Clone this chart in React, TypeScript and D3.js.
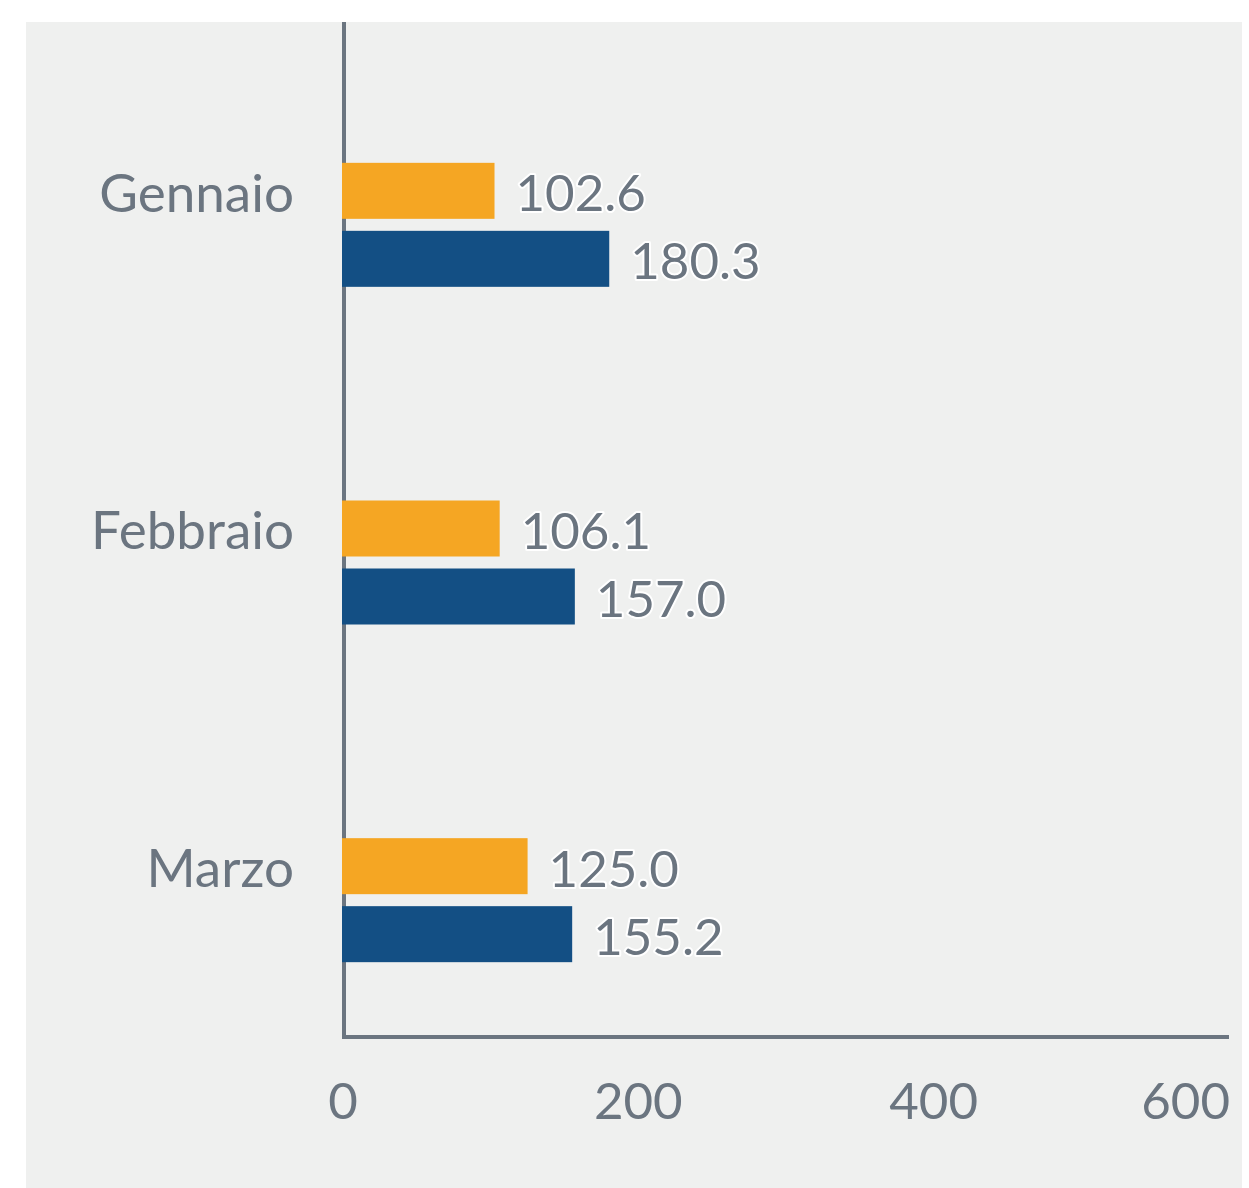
import { useEffect, useRef } from 'react';
import * as d3 from 'd3';

const months = ['Gennaio', 'Febbraio', 'Marzo'];
const series = ['primo', 'secondo'];
const primoValues = [102.6, 106.1, 125.0];
const secondoValues = [180.3, 157.0, 155.2];
const xTicks = [0, 200, 400, 600];
const colors = ['#F5A623', '#134F84'];

const App = () => {
  const svgRef = useRef<SVGSVGElement>(null);

  useEffect(() => {
    const width = 1249;
    const height = 1188;
    const textColor = '#6B7580';
    const font = 'Lato, "Open Sans", sans-serif';
    const fontSize = 51;

    if (!svgRef.current) return;
    const svg = d3.select(svgRef.current);
    svg.selectAll('*').remove();
    svg.attr('width', width).attr('height', height);

    svg.append('rect')
      .attr('x', 26).attr('y', 22)
      .attr('width', 1216).attr('height', height - 22)
      .attr('fill', '#EFF0EF');

    const xScale = d3.scaleLinear().domain([0, 600]).range([343, 1229]);
    const yScale = d3.scaleBand().domain(months).range([22, 1035]).padding(0);
    const inner = d3.scaleBand().domain(series).range([-28, 96]).paddingInner(12 / 68);

    // axes (under the bars)
    svg.append('line')
      .attr('x1', 344).attr('x2', 344)
      .attr('y1', 22).attr('y2', 1039)
      .attr('stroke', textColor).attr('stroke-width', 4);

    svg.append('line')
      .attr('x1', 342).attr('x2', 1229)
      .attr('y1', 1037).attr('y2', 1037)
      .attr('stroke', textColor).attr('stroke-width', 4);

    const rows = months.map((m, i) => ({ month: m, values: [primoValues[i], secondoValues[i]] }));

    const g = svg.selectAll('g.row')
      .data(rows)
      .enter()
      .append('g')
      .attr('class', 'row')
      .attr('transform', d => `translate(0,${(yScale(d.month) ?? 0) + yScale.bandwidth() / 2})`);

    g.selectAll('rect')
      .data(d => d.values.map((v, j) => ({ key: series[j], v, j })))
      .enter()
      .append('rect')
      .attr('x', xScale(0) - 1)
      .attr('y', d => inner(d.key) ?? 0)
      .attr('width', d => xScale(d.v) - xScale(0) + 1)
      .attr('height', inner.bandwidth())
      .attr('fill', d => colors[d.j]);

    g.selectAll('text.val')
      .data(d => d.values.map((v, j) => ({ key: series[j], v })))
      .enter()
      .append('text')
      .attr('class', 'val')
      .attr('x', d => xScale(d.v) + 21)
      .attr('y', d => (inner(d.key) ?? 0) + inner.bandwidth() / 2)
      .attr('dy', '0.4em')
      .attr('font-family', font)
      .attr('font-size', fontSize)
      .attr('fill', textColor)
      .attr('stroke', '#ffffff')
      .attr('stroke-width', 4)
      .attr('stroke-linejoin', 'round')
      .attr('paint-order', 'stroke')
      .text(d => d.v.toFixed(1));

    g.append('text')
      .attr('x', 294)
      .attr('y', 0)
      .attr('dy', '0.39em')
      .attr('text-anchor', 'end')
      .attr('font-family', font)
      .attr('font-size', 53)
      .attr('fill', textColor)
      .text(d => d.month);

    svg.selectAll('text.tick')
      .data(xTicks)
      .enter()
      .append('text')
      .attr('class', 'tick')
      .attr('x', (d, i) => xScale(d) + (i === xTicks.length - 1 ? 1 : 0))
      .attr('y', 1119)
      .attr('text-anchor', (d, i) => (i === xTicks.length - 1 ? 'end' : 'middle'))
      .attr('font-family', font)
      .attr('font-size', fontSize)
      .attr('fill', textColor)
      .text(d => String(d));
  }, []);

  return <svg ref={svgRef} style={{ position: 'absolute', left: 0, top: 0 }}></svg>;
};

export default App;
